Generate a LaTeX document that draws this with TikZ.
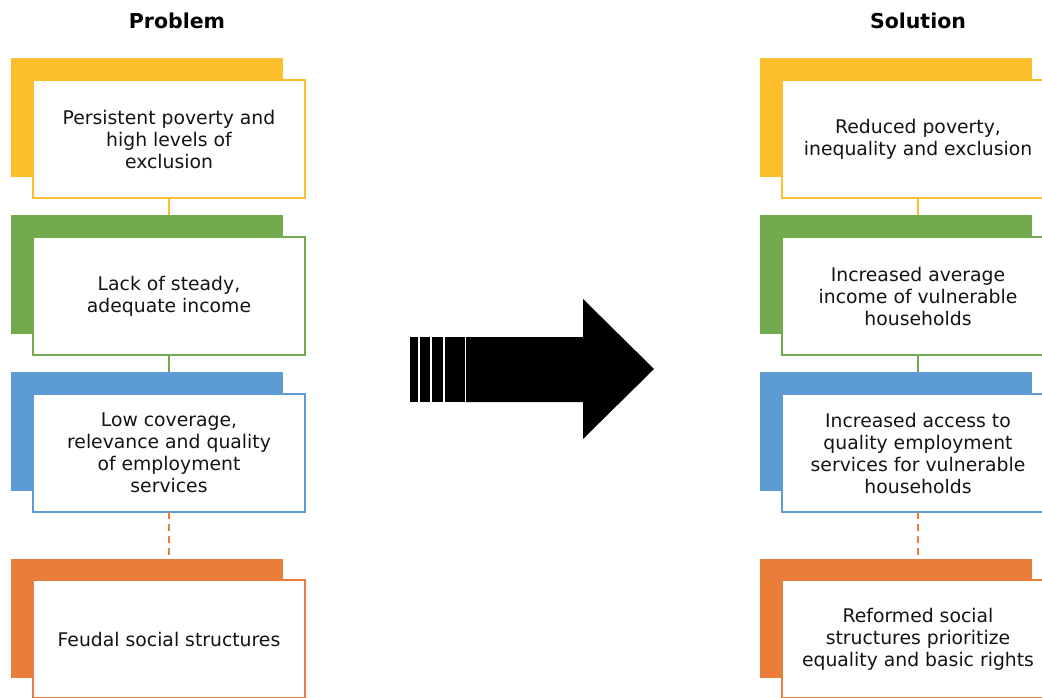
\documentclass[tikz,border=0pt]{standalone}
\usepackage{fontspec}
\setmainfont{DejaVu Sans}
\definecolor{cyel}{RGB}{253,190,45}
\definecolor{cgrn}{RGB}{114,171,77}
\definecolor{cblu}{RGB}{93,155,213}
\definecolor{corg}{RGB}{235,125,59}
\definecolor{ctxt}{RGB}{20,20,20}
\tikzset{
  backbox/.style={fill=#1, draw=none, anchor=north west, minimum width=272pt, minimum height=119pt, inner sep=0pt, outer sep=0pt},
  frontbox/.style={fill=white, draw=#1, line width=1.5pt, anchor=north west, minimum width=272pt, minimum height=118pt, inner sep=0pt, outer sep=0pt, align=center, text=ctxt, font=\fontsize{18.8}{22}\selectfont},
  link/.style={draw=#1, line width=2pt},
  title/.style={font=\fontsize{20.5}{24}\selectfont\bfseries, anchor=center}
}
\begin{document}
\begin{tikzpicture}[x=1pt,y=-1pt]
\useasboundingbox (0,0) rectangle (1042,698);
\clip (0,0) rectangle (1042,698);
% titles
\node[title] (tp) at (177,21) {Problem};
\node[title] (ts) at (918,21) {Solution};
% left column
\node[backbox=cyel] (lb1) at (11,58) {};
\node[frontbox=cyel] (lf1) at (33,80) {Persistent poverty and\\high levels of\\exclusion};
\node[backbox=cgrn] (lb2) at (11,215) {};
\node[frontbox=cgrn] (lf2) at (33,237) {Lack of steady,\\adequate income};
\node[backbox=cblu] (lb3) at (11,372) {};
\node[frontbox=cblu] (lf3) at (33,394) {Low coverage,\\relevance and quality\\of employment\\services};
\node[backbox=corg] (lb4) at (11,559) {};
\node[frontbox=corg] (lf4) at (33,580) {Feudal social structures};
\draw[link=cyel] (lf1.south) -- (lf1.south |- lb2.north);
\draw[link=cgrn] (lf2.south) -- (lf2.south |- lb3.north);
\draw[link=corg, dashed, dash pattern=on 7pt off 5pt] (lf3.south) -- (lf3.south |- lb4.north);
% right column
\node[backbox=cyel] (rb1) at (760,58) {};
\node[frontbox=cyel] (rf1) at (782,80) {Reduced poverty,\\inequality and exclusion};
\node[backbox=cgrn] (rb2) at (760,215) {};
\node[frontbox=cgrn] (rf2) at (782,237) {Increased average\\income of vulnerable\\households};
\node[backbox=cblu] (rb3) at (760,372) {};
\node[frontbox=cblu] (rf3) at (782,394) {Increased access to\\quality employment\\services for vulnerable\\households};
\node[backbox=corg] (rb4) at (760,559) {};
\node[frontbox=corg] (rf4) at (782,580) {Reformed social\\structures prioritize\\equality and basic rights};
\draw[link=cyel] (rf1.south) -- (rf1.south |- rb2.north);
\draw[link=cgrn] (rf2.south) -- (rf2.south |- rb3.north);
\draw[link=corg, dashed, dash pattern=on 7pt off 5pt] (rf3.south) -- (rf3.south |- rb4.north);
% striped arrow
\fill[black] (410,337) rectangle (418,402);
\fill[black] (420,337) rectangle (430,402);
\fill[black] (432,337) rectangle (443,402);
\fill[black] (445,337) rectangle (464.5,402);
\fill[black] (466,337) -- (583,337) -- (583,299) -- (654,369) -- (583,439) -- (583,402) -- (466,402) -- cycle;
\end{tikzpicture}
\end{document}
